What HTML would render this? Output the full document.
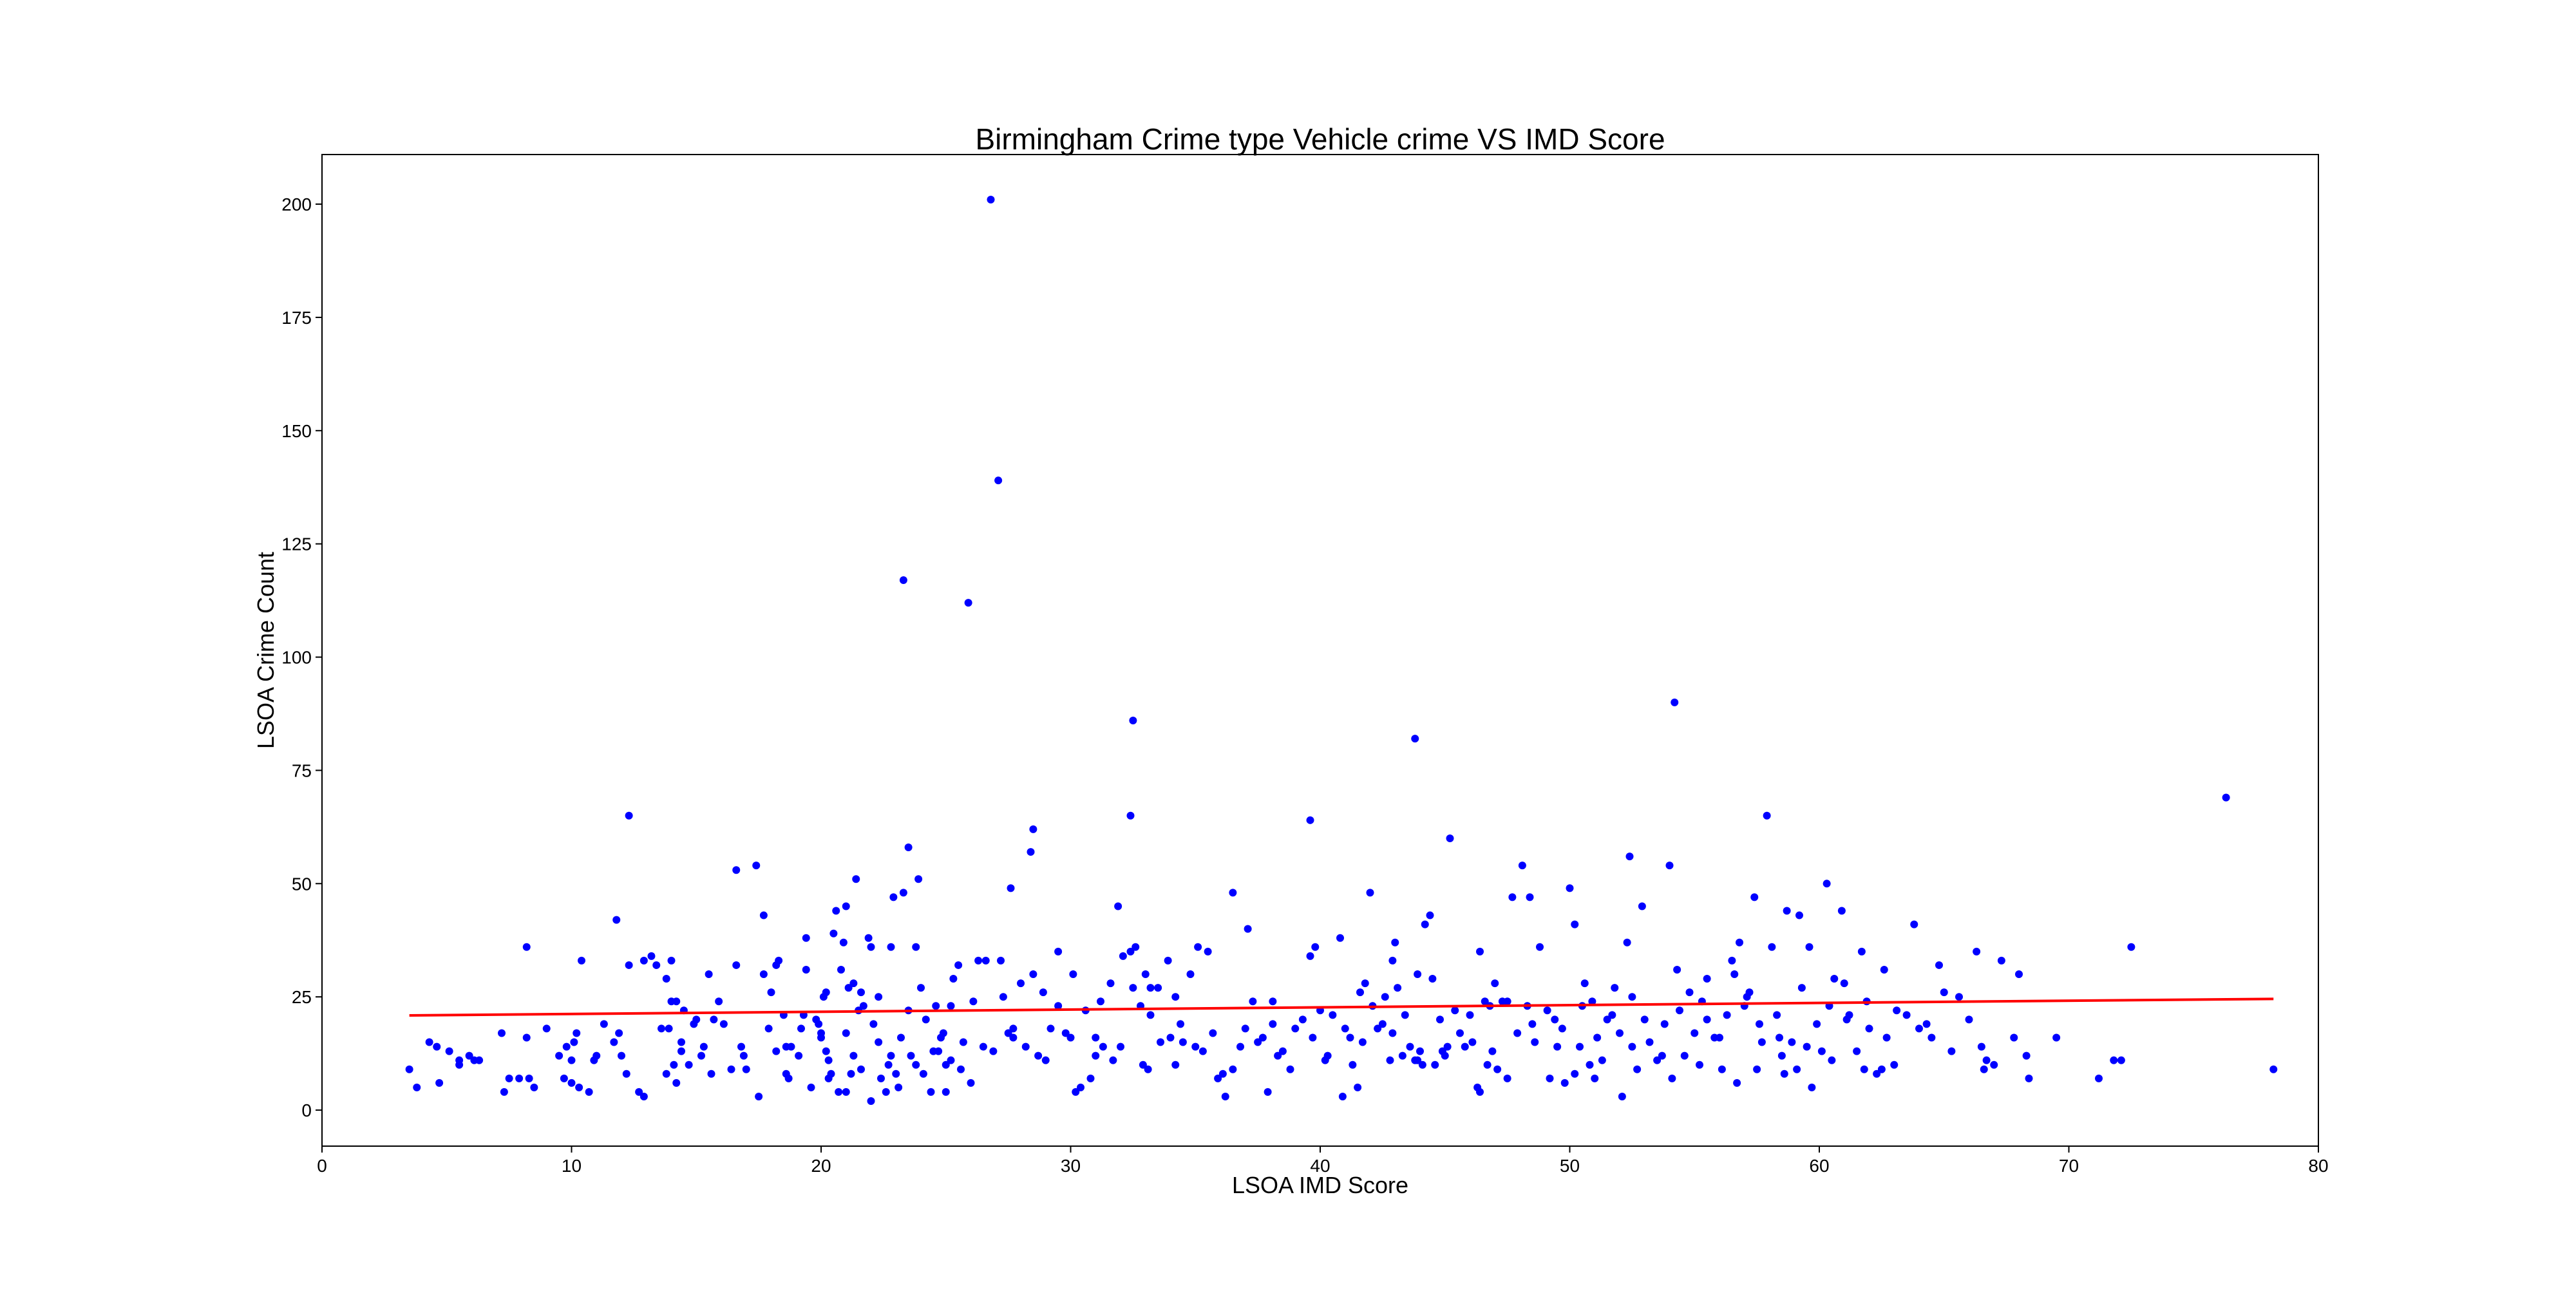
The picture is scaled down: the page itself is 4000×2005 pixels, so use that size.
<!DOCTYPE html>
<html><head><meta charset="utf-8"><style>
html,body{margin:0;padding:0;background:#fff}
svg text{font-family:"Liberation Sans",sans-serif;fill:#000}
</style></head><body>
<svg id="chart" width="4000" height="2000" xmlns="http://www.w3.org/2000/svg">
<rect width="4000" height="2000" fill="#fff"/>
<text x="2050" y="232" font-size="46" text-anchor="middle">Birmingham Crime type Vehicle crime VS IMD Score</text>
<g id="plot"></g>
<rect x="500" y="240" width="3100" height="1540" fill="none" stroke="#000" stroke-width="2"/>
<text x="2050" y="1853" font-size="36" text-anchor="middle">LSOA IMD Score</text>
<text x="425" y="1010" font-size="36" text-anchor="middle" transform="rotate(-90 425 1010)">LSOA Crime Count</text>
</svg>
<script>
const xTicks=[0,10,20,30,40,50,60,70,80];
const yTicks=[0,25,50,75,100,125,150,175,200];
const imdScores=[3.5,3.8,4.3,4.6,4.7,5.1,5.5,5.5,5.9,6.1,6.3,7.2,7.3,7.5,7.9,8.2,8.2,8.3,8.5,9,9.5,9.7,9.8,10,10,10.1,10.2,10.3,10.4,10.7,10.9,11,11.3,11.7,11.8,11.9,12,12.2,12.3,12.3,12.7,12.9,12.9,13.2,13.4,13.6,13.8,13.8,13.9,14,14,14.1,14.2,14.2,14.4,14.4,14.5,14.7,14.9,15,15.2,15.3,15.5,15.6,15.7,15.9,16.1,16.4,16.6,16.6,16.8,16.9,17,17.4,17.5,17.7,17.7,17.9,18,18.2,18.2,18.3,18.5,18.6,18.6,18.7,18.8,19.1,19.2,19.3,19.4,19.4,19.6,19.8,19.9,20,20,20.1,20.2,20.2,20.3,20.3,20.4,20.5,20.6,20.7,20.8,20.9,21,21,21,21.1,21.2,21.3,21.3,21.4,21.5,21.6,21.6,21.7,21.9,22,22,22.1,22.3,22.3,22.4,22.6,22.7,22.8,22.8,22.9,23,23.1,23.2,23.3,23.3,23.5,23.5,23.6,23.8,23.8,23.9,24,24.1,24.2,24.4,24.6,24.7,24.8,24.9,25,25,25.2,25.3,25.5,25.6,25.7,25.9,26,26.1,26.3,26.6,26.8,26.9,27.1,27.2,27.3,27.5,27.6,27.7,28,28.2,28.4,28.5,28.5,28.7,28.9,29.2,29.5,29.5,29.8,30,30.1,30.2,30.4,30.6,30.8,31,31.2,31.3,31.6,31.7,31.9,32,32.1,32.4,32.4,32.5,32.5,32.6,32.8,32.9,33,33.1,33.2,33.5,33.6,33.9,34,34.2,34.2,34.5,34.8,35,35.1,35.3,35.5,35.7,35.9,36.1,36.2,36.5,36.8,37,37.1,37.3,37.5,37.7,37.9,38.1,38.3,38.5,38.8,39,39.3,39.6,39.6,39.7,39.8,40,40.2,40.5,40.8,40.9,41,41.3,41.5,41.6,41.7,41.8,42,42.1,42.3,42.5,42.6,42.9,42.9,43,43.1,43.3,43.4,43.6,43.8,43.8,43.9,44.1,44.2,44.4,44.5,44.6,44.8,44.9,45.1,45.2,45.4,45.6,45.8,46,46.1,46.3,46.4,46.4,46.6,46.7,46.8,47,47.1,47.3,47.5,47.7,47.9,48.1,48.3,48.4,48.6,48.8,49.1,49.2,49.4,49.7,49.8,50,50.2,50.4,50.5,50.6,50.8,50.9,51.1,51.3,51.5,51.7,51.8,52,52.1,52.3,52.4,52.5,52.7,52.9,53.2,53.5,53.8,54,54.2,54.3,54.4,54.6,54.8,55,55.3,55.5,55.8,56.1,56.3,56.5,56.6,56.8,57,57.1,57.2,57.4,57.5,57.7,57.9,58.1,58.3,58.5,58.7,58.9,59.2,59.3,59.6,59.7,59.9,60.1,60.3,60.4,60.6,60.9,61,61.2,61.5,61.7,61.9,62.3,62.5,62.6,62.7,63.1,63.5,63.8,64,64.3,64.8,65,65.6,66,66.3,66.5,66.7,67,67.3,67.8,68,68.3,68.4,69.5,71.2,71.8,72.1,72.5,76.3,78.2,41.2,43.9,45,46.9,48.5,49.5,50.2,51,52.5,53,54.1,55.2,56,57.6,58.6,59.5,60.5,61.8,62,63,64.5,65.3,66.6,56.7,58.4,59.1,61.1,55.5,53.7,47.5,44,42.8,40.3,38.1,36.5,34.4,33.2,31,29,27.7,26.5,25.2,24.5,23.7];
const crimeCounts=[9,5,15,14,6,13,11,10,12,11,11,17,4,7,7,16,36,7,5,18,12,7,14,11,6,15,17,5,33,4,11,12,19,15,42,17,12,8,65,32,4,3,33,34,32,18,29,8,18,33,24,10,6,24,15,13,22,10,19,20,12,14,30,8,20,24,19,9,53,32,14,12,9,54,3,43,30,18,26,13,32,33,21,8,14,7,14,12,18,21,38,31,5,20,19,17,16,25,13,26,7,11,8,39,44,4,31,37,4,17,45,27,8,28,12,51,22,9,26,23,38,36,2,19,15,25,7,4,10,12,36,47,8,5,16,117,48,58,22,12,36,10,51,27,8,20,4,23,13,16,17,4,10,23,29,32,9,15,112,6,24,33,33,201,13,139,33,25,17,49,18,28,14,57,62,30,12,26,18,35,23,17,16,30,4,5,22,7,16,24,14,28,11,45,14,34,35,65,86,27,36,23,10,30,9,27,27,15,33,16,10,25,15,30,14,36,13,35,17,7,8,3,48,14,18,40,24,15,16,4,24,12,13,9,18,20,64,34,16,36,22,11,21,38,3,18,10,5,26,15,28,48,23,18,19,25,33,17,37,27,12,21,14,82,11,30,10,41,43,29,10,20,13,14,60,22,17,14,21,15,5,4,35,24,10,23,28,9,24,24,47,17,54,23,47,15,36,22,7,20,18,6,49,41,14,23,28,10,24,16,11,20,21,27,17,3,37,56,25,9,45,15,11,19,54,90,31,22,12,26,17,24,29,16,9,21,33,30,37,23,25,26,47,9,15,65,36,21,12,44,15,43,27,36,5,19,13,50,23,29,44,28,21,13,35,24,8,9,31,16,22,21,41,18,19,32,26,25,20,35,14,11,10,33,16,30,12,7,16,7,11,11,36,69,9,16,11,12,13,19,14,8,7,14,20,7,10,16,19,8,14,11,9,18,10,16,13,9,6,16,9,20,20,12,7,13,11,12,19,9,19,21,12,11,16,14,11,13];
const X0=500,X1=3600,Y0=1780,Y1=240,XMIN=0,XMAX=80,YMIN=-7.95,YMAX=210.95;
const sx=v=>X0+(v-XMIN)/(XMAX-XMIN)*(X1-X0);
const sy=v=>Y0-(v-YMIN)/(YMAX-YMIN)*(Y0-Y1);
const NS="http://www.w3.org/2000/svg";
const svg=document.getElementById('chart');
const plot=document.getElementById('plot');
function mk(tag,attrs,parent){const e=document.createElementNS(NS,tag);for(const k in attrs)e.setAttribute(k,attrs[k]);parent.appendChild(e);return e;}
xTicks.forEach(t=>{
  const l=mk('line',{x1:sx(t),x2:sx(t),y1:Y0,y2:Y0+10,stroke:'#000','stroke-width':2},svg);
  
  
  const tx=mk('text',{x:sx(t),y:Y0+40,'font-size':28,'text-anchor':'middle'},svg);
  tx.textContent=t;
  
  
});
yTicks.forEach(t=>{
  const l=mk('line',{x1:X0-10,x2:X0,y1:sy(t),y2:sy(t),stroke:'#000','stroke-width':2},svg);
  
  
  const tx=mk('text',{x:X0-16,y:sy(t)+10,'font-size':28,'text-anchor':'end'},svg);
  tx.textContent=t;
  
  
});
const n=Math.min(imdScores.length,crimeCounts.length);
for(let i=0;i<n;i++){
  const c=mk('circle',{cx:sx(imdScores[i]),cy:sy(crimeCounts[i]),r:6,fill:'#0000ff'},plot);
  
  
}
// least squares trend line
let mx=0,my=0;for(let i=0;i<n;i++){mx+=imdScores[i];my+=crimeCounts[i];}mx/=n;my/=n;
let sxy=0,sxx=0;for(let i=0;i<n;i++){sxy+=(imdScores[i]-mx)*(crimeCounts[i]-my);sxx+=(imdScores[i]-mx)**2;}
const slope=sxy/sxx,icpt=my-slope*mx;
let xmin=Infinity,xmax=-Infinity;for(let i=0;i<n;i++){xmin=Math.min(xmin,imdScores[i]);xmax=Math.max(xmax,imdScores[i]);}
const tl=mk('line',{x1:sx(xmin),y1:sy(icpt+slope*xmin),x2:sx(xmax),y2:sy(icpt+slope*xmax),stroke:'#ff0000','stroke-width':4},plot);


</script>
</body></html>
